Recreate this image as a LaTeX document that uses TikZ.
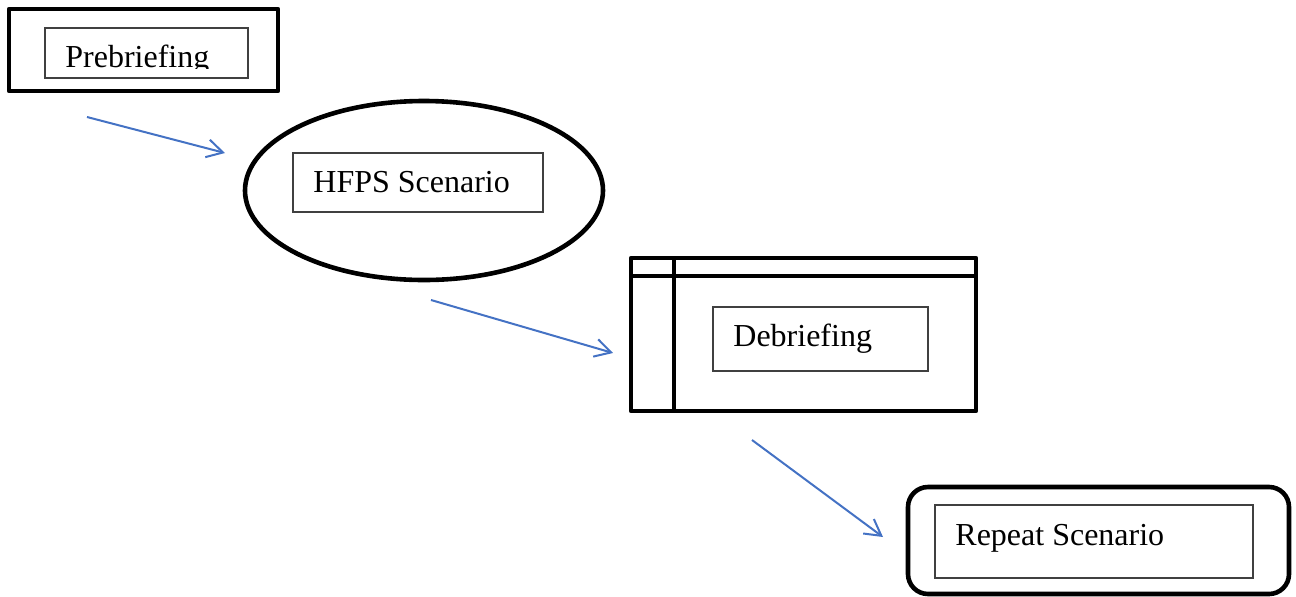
\documentclass[tikz,border=0pt]{standalone}
\usepackage{fontspec}
\setmainfont{Liberation Serif}
\usepackage{tikz}
\usetikzlibrary{arrows.meta, shapes.geometric}
\definecolor{flowblue}{RGB}{68,114,196}
\tikzset{flow/.style={-{Straight Barb[length=8pt, width=9pt]}, draw=flowblue,
    line width=1pt}}
\tikzset{frame/.style={draw, line width=2.3pt, outer sep=0pt, inner sep=0pt,
    line join=round}}
\tikzset{inbox/.style={draw=black!75, line width=0.55pt}}
\tikzset{lbl/.style={anchor=base west, inner sep=0pt,
    font=\fontsize{16}{19}\selectfont}}

\begin{document}
\begin{tikzpicture}[x=0.5pt, y=-0.5pt]
      \useasboundingbox (0,0) rectangle (1296,596);
      % outer shapes
      \node[frame, rectangle, minimum width=134.5pt, minimum height=41pt] (pre) at (143.5,50) {};
      \node[frame, ellipse, minimum width=179pt, minimum height=89.5pt] (scen) at (424,190.5) {};
      \node[frame, rectangle, minimum width=172.5pt, minimum height=76.5pt] (deb) at (803.5,334.5) {};
      \draw[frame] ([yshift=-9pt]deb.north west) -- ([yshift=-9pt]deb.north east);
      \draw[frame] ([xshift=21.5pt]deb.north west) -- ([xshift=21.5pt]deb.south west);
      \node[frame, rectangle, rounded corners=10pt, minimum width=190.5pt, minimum height=53.5pt] (rep) at (1098.5,540.5) {};
      %%%%%%%%%
      \draw[inbox] (45,28) rectangle (248,78);
      \draw[inbox] (293,153) rectangle (543,212);
      \draw[inbox] (713,307) rectangle (928,371);
      \draw[inbox] (935,505) rectangle (1253,578);
      \begin{scope}
        \clip (45,28) rectangle (248,68);
        \node[lbl] (pretxt) at (65,67) {Prebriefing};
      \end{scope}
      \node[lbl] (scentxt) at (313,192) {HFPS Scenario};
      \node[lbl] (debtxt) at (733,346) {Debriefing};
      \node[lbl] (reptxt) at (955,545) {Repeat Scenario};
      % arrows
      \coordinate (a1) at (87,117);  \coordinate (b1) at (225,153);
      \coordinate (a2) at (431,300); \coordinate (b2) at (613,353);
      \coordinate (a3) at (752,440); \coordinate (b3) at (883,537);
      \foreach \i in {1,2,3} \draw[flow] (a\i) -- (b\i);
\end{tikzpicture}
\end{document}
